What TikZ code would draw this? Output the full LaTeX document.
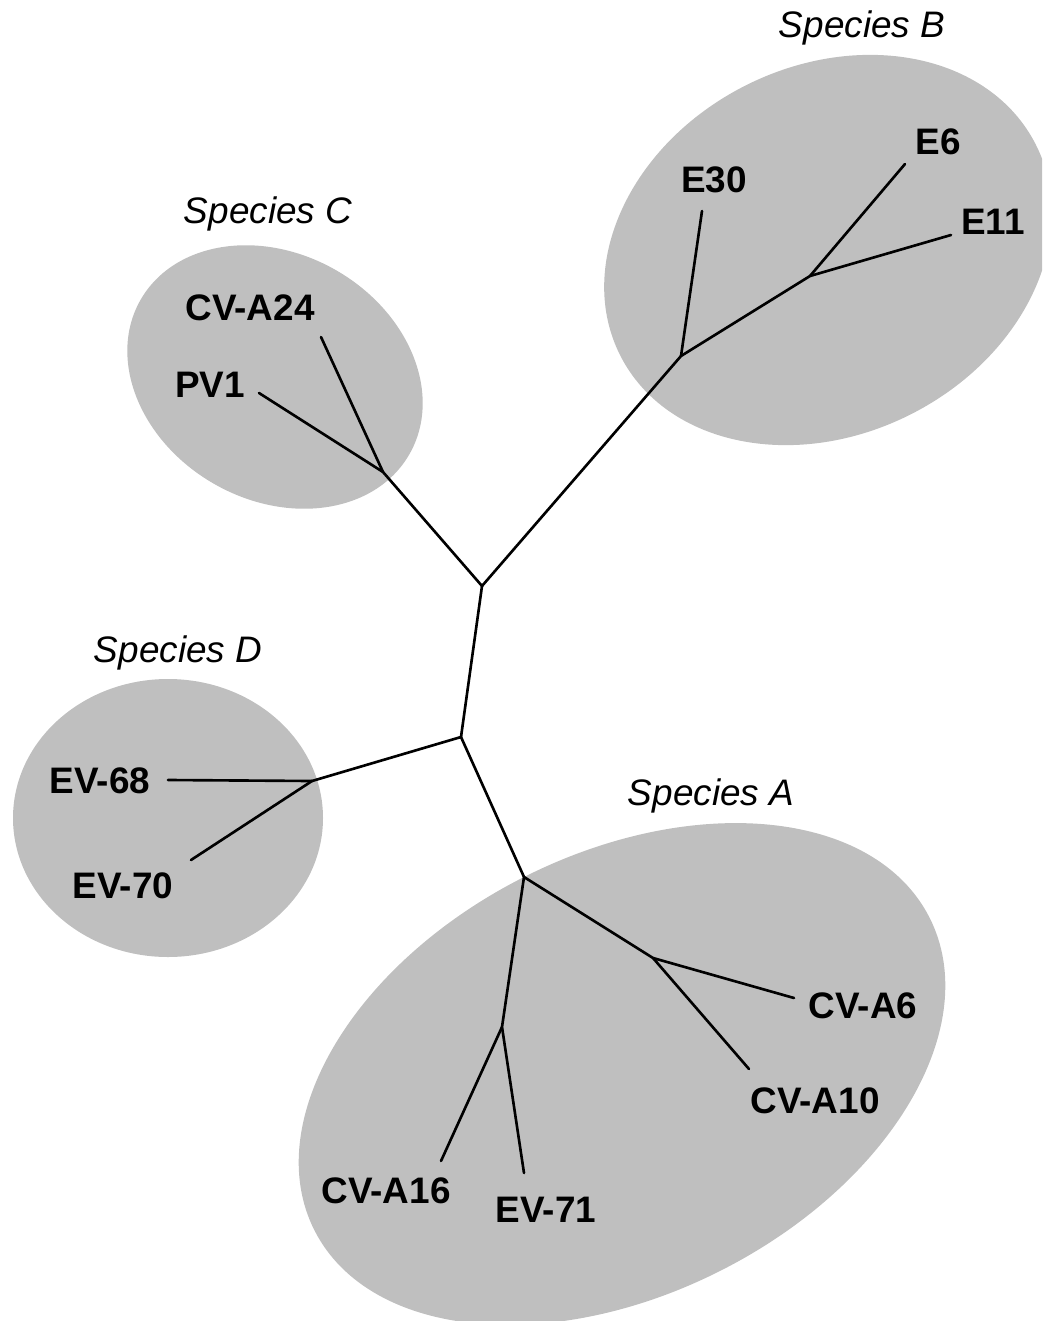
\documentclass[tikz,border=0pt]{standalone}
\usepackage{fontspec}
\setmainfont{Liberation Sans}
\definecolor{cladegray}{RGB}{191,191,191}
\begin{document}
\begin{tikzpicture}[x=0.02cm,y=-0.02cm,
  branch/.style={line width=1.5pt, line cap=round, line join=round, black},
  taxon/.style={font=\fontsize{21}{25}\selectfont\bfseries, inner sep=0pt, anchor=base},
  species/.style={font=\fontsize{21}{25}\selectfont\itshape, inner sep=0pt, anchor=base},
  clade/.style={fill=cladegray}]
\useasboundingbox (0,0) rectangle (1042,1321);
\clip (0,0) rectangle (1042,1321);
% clade ellipses
\fill[clade, rotate around={27:(828,250)}] (828,250) ellipse (233 and 184);
\fill[clade, rotate around={-30:(275,377)}] (275,377) ellipse (155 and 123);
\fill[clade] (168,818) ellipse (155 and 139);
\fill[clade, rotate around={27:(622,1074)}] (622,1074) ellipse (345 and 220);
% internal nodes
\coordinate (R1) at (482,586);
\coordinate (R2) at (461,737);
\coordinate (nA) at (524,877);
\coordinate (nA2) at (653,958);
\coordinate (nA3) at (502,1027);
\coordinate (nB) at (681,356);
\coordinate (nB2) at (810,276);
\coordinate (nC) at (383,472);
\coordinate (nD) at (312,781);
% tips
\coordinate (tA6) at (794,998);
\coordinate (tA10) at (749,1069);
\coordinate (tA16) at (441,1161);
\coordinate (tE71) at (524,1173);
\coordinate (tE30) at (702,211);
\coordinate (tE6) at (905,164);
\coordinate (tE11) at (951,235);
\coordinate (tA24) at (321,337);
\coordinate (tPV1) at (259,393);
\coordinate (tE68) at (168,780);
\coordinate (tE70) at (191,860);
% branches
\draw[branch] (R1) -- (R2);
\draw[branch] (R1) -- (nC);
\draw[branch] (R1) -- (nB);
\draw[branch] (R2) -- (nD);
\draw[branch] (R2) -- (nA);
\draw[branch] (nA) -- (nA2);
\draw[branch] (nA) -- (nA3);
\draw[branch] (nA2) -- (tA6);
\draw[branch] (nA2) -- (tA10);
\draw[branch] (nA3) -- (tA16);
\draw[branch] (nA3) -- (tE71);
\draw[branch] (nB) -- (tE30);
\draw[branch] (nB) -- (nB2);
\draw[branch] (nB2) -- (tE6);
\draw[branch] (nB2) -- (tE11);
\draw[branch] (nC) -- (tA24);
\draw[branch] (nC) -- (tPV1);
\draw[branch] (nD) -- (tE68);
\draw[branch] (nD) -- (tE70);
% labels
\node[species] (spB) at (862,38) {Species B};
\node[species] (spC) at (268,223) {Species C};
\node[species] (spD) at (178,662) {Species D};
\node[species] (spA) at (711,805) {Species A};
\node[taxon] (lE30) at (714,193) {E30};
\node[taxon] (lE6) at (938,155) {E6};
\node[taxon] (lE11) at (993,235) {E11};
\node[taxon] (lA24) at (250,320) {CV-A24};
\node[taxon] (lPV1) at (210,397) {PV1};
\node[taxon] (lE68) at (100,793) {EV-68};
\node[taxon] (lE70) at (123,898) {EV-70};
\node[taxon] (lA6) at (863,1018) {CV-A6};
\node[taxon] (lA10) at (815,1113) {CV-A10};
\node[taxon] (lA16) at (386,1203) {CV-A16};
\node[taxon] (lE71) at (546,1222) {EV-71};
\end{tikzpicture}
\end{document}
